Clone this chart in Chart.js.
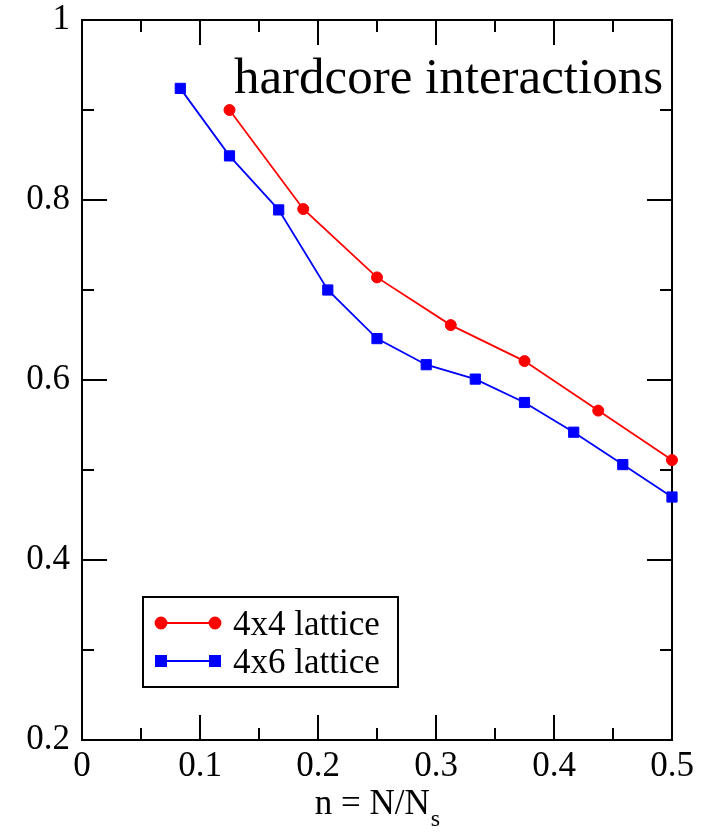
<!DOCTYPE html>
<html>
<head>
<meta charset="utf-8">
<style>
  html, body { margin: 0; padding: 0; background: #fff; }
  #wrap { width: 708px; height: 834px; }
</style>
<script src="https://cdn.jsdelivr.net/npm/chart.js@4.4.1/dist/chart.umd.min.js"></script>
</head>
<body>
<div id="wrap"><canvas id="c" width="708" height="834"></canvas></div>
<script>
// Filling n = N/N_s and the plotted quantity for the two lattice sizes
const seriesNames = ['4x4 lattice', '4x6 lattice'];
const filling4x4 = [0.125, 0.1875, 0.25, 0.3125, 0.375, 0.4375, 0.5];
const value4x4   = [0.900, 0.790, 0.714, 0.661, 0.621, 0.566, 0.511];
const filling4x6 = [0.0833, 0.125, 0.1667, 0.2083, 0.25, 0.2917, 0.3333, 0.375, 0.4167, 0.4583, 0.5];
const value4x6   = [0.924, 0.849, 0.789, 0.700, 0.646, 0.617, 0.601, 0.575, 0.542, 0.506, 0.470];

const xTickLabels = ['0', '0.1', '0.2', '0.3', '0.4', '0.5'];
const yTickLabels = ['0.2', '0.4', '0.6', '0.8', '1'];
const noteText = 'hardcore interactions';
const xTitleMain = 'n = N/N';
const xTitleSub = 's';

const SERIF = '"Liberation Serif", "Times New Roman", Times, serif';
const RED = '#ff0000';
const BLUE = '#0000ff';

function pairs(xs, ys) { return xs.map((v, i) => ({ x: v, y: ys[i] })); }

// Frame and inward-pointing tick marks on all four sides
const framePlugin = {
  id: 'frame',
  beforeDatasetsDraw(chart) {
    const { ctx, chartArea: a, scales: { x, y } } = chart;
    ctx.save();
    ctx.strokeStyle = '#000';
    ctx.lineWidth = 2;
    ctx.strokeRect(a.left, a.top, a.right - a.left, a.bottom - a.top);
    ctx.beginPath();
    y.ticks.forEach(t => {
      const py = Math.round(y.getPixelForValue(t.value));
      const len = Math.round(t.value * 10) % 2 === 0 ? 25 : 12;
      ctx.moveTo(a.left, py); ctx.lineTo(a.left + len, py);
      ctx.moveTo(a.right, py); ctx.lineTo(a.right - len, py);
    });
    x.ticks.forEach((t, i) => {
      const px = Math.round(x.getPixelForValue(t.value));
      ctx.moveTo(px, a.bottom); ctx.lineTo(px, a.bottom - 25);
      ctx.moveTo(px, a.top); ctx.lineTo(px, a.top + 25);
      if (i > 0) {
        const mid = Math.round(x.getPixelForValue((t.value + x.ticks[i - 1].value) / 2));
        ctx.moveTo(mid, a.bottom); ctx.lineTo(mid, a.bottom - 12);
        ctx.moveTo(mid, a.top); ctx.lineTo(mid, a.top + 12);
      }
    });
    ctx.stroke();
    ctx.restore();
  },
  afterDraw(chart) {
    const { ctx, chartArea: a } = chart;
    ctx.save();
    ctx.fillStyle = '#000';

    // annotation in the upper right corner
    ctx.font = '51px ' + SERIF;
    ctx.textAlign = 'right';
    ctx.textBaseline = 'alphabetic';
    ctx.fillText(noteText, a.right - 9, a.top + 73);

    // x-axis title with subscript
    ctx.font = '35px ' + SERIF;
    const wMain = ctx.measureText(xTitleMain).width;
    ctx.font = '24px ' + SERIF;
    const wSub = ctx.measureText(xTitleSub).width;
    const cx = (a.left + a.right) / 2;
    const startX = cx - (wMain + wSub) / 2;
    ctx.textAlign = 'left';
    ctx.font = '35px ' + SERIF;
    ctx.fillText(xTitleMain, startX, 814);
    ctx.font = '24px ' + SERIF;
    ctx.fillText(xTitleSub, startX + wMain + 1, 826);

    // legend box
    const bx = 143, by = 597, bw = 255, bh = 90;
    ctx.fillStyle = '#fff';
    ctx.fillRect(bx, by, bw, bh);
    ctx.strokeStyle = '#000';
    ctx.lineWidth = 2;
    ctx.strokeRect(bx, by, bw, bh);
    const rows = [623, 661];
    chart.data.datasets.forEach((ds, i) => {
      const ly = rows[i];
      ctx.strokeStyle = ds.borderColor;
      ctx.lineWidth = ds.borderWidth;
      ctx.beginPath();
      ctx.moveTo(161, ly); ctx.lineTo(215, ly);
      ctx.stroke();
      ctx.fillStyle = ds.pointBackgroundColor;
      ctx.strokeStyle = ds.pointBorderColor;
      [161, 215].forEach(px => {
        Chart.helpers.drawPoint(ctx, {
          pointStyle: ds.pointStyle, radius: ds.pointRadius,
          rotation: 0, borderWidth: ds.pointBorderWidth
        }, px, ly);
      });
      ctx.fillStyle = '#000';
      ctx.font = '35px ' + SERIF;
      ctx.textAlign = 'left';
      ctx.textBaseline = 'alphabetic';
      ctx.fillText(ds.label, 233, ly + 12);
    });
    ctx.restore();
  }
};

new Chart(document.getElementById('c'), {
  type: 'line',
  data: {
    datasets: [
      {
        label: seriesNames[0],
        data: pairs(filling4x4, value4x4),
        borderColor: RED, backgroundColor: RED,
        pointBackgroundColor: RED, pointBorderColor: RED,
        borderWidth: 1.8, pointStyle: 'circle', pointRadius: 5.5, pointBorderWidth: 1,
        tension: 0, clip: false
      },
      {
        label: seriesNames[1],
        data: pairs(filling4x6, value4x6),
        borderColor: BLUE, backgroundColor: BLUE,
        pointBackgroundColor: BLUE, pointBorderColor: BLUE,
        borderWidth: 1.8, pointStyle: 'rect', pointRadius: 7.2, pointBorderWidth: 1,
        tension: 0, clip: false
      }
    ]
  },
  options: {
    responsive: false,
    animation: false,
    devicePixelRatio: 1,
    layout: { padding: { top: 20, right: 36, left: 0, bottom: 0 } },
    plugins: { legend: { display: false }, tooltip: { enabled: false } },
    scales: {
      x: {
        type: 'linear', position: 'bottom', min: 0, max: 0.5,
        grid: { display: false, drawTicks: false },
        border: { display: false },
        ticks: {
          stepSize: 0.1, autoSkip: false, maxRotation: 0, padding: 6,
          color: '#000', font: { family: SERIF, size: 35 },
          callback: (v, i) => xTickLabels[i]
        },
        afterFit: s => { s.height = 94; s.paddingLeft = 0; s.paddingRight = 0; }
      },
      y: {
        type: 'linear', position: 'left', min: 0.2, max: 1,
        grid: { display: false, drawTicks: false },
        border: { display: false },
        ticks: {
          stepSize: 0.1, autoSkip: false, padding: 12,
          color: '#000', font: { family: SERIF, size: 35 },
          callback: v => {
            const r = Math.round(v * 10);
            return r % 2 === 0 ? yTickLabels[(r - 2) / 2] : '';
          }
        },
        afterFit: s => { s.width = 82; s.paddingTop = 0; s.paddingBottom = 0; }
      }
    }
  },
  plugins: [framePlugin]
});
</script>
</body>
</html>
